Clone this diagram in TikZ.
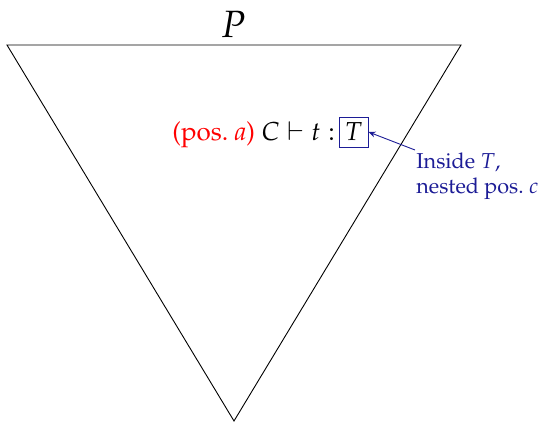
\documentclass[tikz,border=0pt]{standalone}
\usepackage[T1]{fontenc}
\usepackage{mathpazo}
\usetikzlibrary{arrows.meta}
\definecolor{navy}{RGB}{28,28,150}
\tikzset{
  tri/.style={draw=black, line width=0.45pt},
  tbox/.style={draw=navy, line width=0.5pt, inner sep=0pt, minimum width=14.5pt, minimum height=15pt, font=\fontsize{13}{15}\selectfont},
  maintext/.style={inner sep=0pt, font=\fontsize{13}{15}\selectfont},
  notetext/.style={text=navy, align=left, inner sep=0pt, font=\fontsize{10.8}{12.6}\selectfont},
  callout/.style={draw=navy, line width=0.45pt, -{Stealth[length=3.5pt,width=3pt]}}
}
\begin{document}
\begin{tikzpicture}[x=0.5pt,y=-0.5pt]
\useasboundingbox (0,0) rectangle (542,423);
\coordinate (tl) at (7,45);
\coordinate (tr) at (461,45);
\coordinate (bt) at (234,421);
\draw[tri] (tl) -- (tr) -- (bt) -- cycle;
\node[inner sep=0pt, font=\fontsize{19}{21}\selectfont] (P) at (233,24) {$P$};
\node[tbox] (T) at (353.5,132) {$T$};
\node[maintext, anchor=base east] (main) at ([xshift=-1.5pt]T.base west) {\textcolor{red}{(pos.~\textit{a})} $C \vdash t :$};
\node[notetext, anchor=north west] (note) at (416,152) {Inside $T$,\\nested pos.~$c$};
\draw[callout] ([xshift=-0.5pt,yshift=1pt]note.north west) -- (T.east);
\end{tikzpicture}
\end{document}
